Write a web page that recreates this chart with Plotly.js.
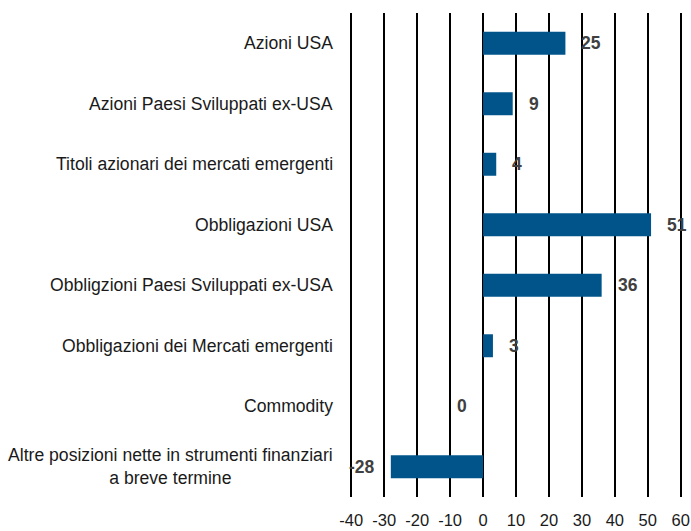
<!DOCTYPE html>
<html>
<head>
<meta charset="utf-8">
<script src="https://cdn.plot.ly/plotly-3.0.1.min.js"></script>
<style>html,body{margin:0;padding:0;background:#fff;}#chart{width:691px;height:531px;}</style>
</head>
<body>
<div id="chart"></div>
<script>
const categories = [
  "Azioni USA",
  "Azioni Paesi Sviluppati ex-USA",
  "Titoli azionari dei mercati emergenti",
  "Obbligazioni USA",
  "Obbligzioni Paesi Sviluppati ex-USA",
  "Obbligazioni dei Mercati emergenti",
  "Commodity",
  "Altre posizioni nette in strumenti finanziari<br>a breve termine"
];
const values = [25, 9, 4, 51, 36, 3, 0, -28];
const xTicks = [-40, -30, -20, -10, 0, 10, 20, 30, 40, 50, 60];

const idx = categories.map((_, i) => i);

const trace = {
  type: 'bar',
  orientation: 'h',
  x: values,
  y: idx,
  width: 0.38,
  marker: {color: '#01548a', line: {width: 0}},
  hoverinfo: 'skip'
};

const annotations = [];
categories.forEach((c, i) => {
  annotations.push({
    xref: 'paper', yref: 'y', x: 0, y: i,
    xanchor: 'right', yanchor: 'middle', xshift: -13,
    text: c, showarrow: false, align: 'center',
    font: {family: 'Liberation Sans, Arial, sans-serif', size: 17.6, color: '#1a1a1a'}
  });
  const v = values[i];
  annotations.push({
    xref: 'x', yref: 'y', x: v, y: i,
    xanchor: v > 0 ? 'left' : 'right', yanchor: 'middle',
    xshift: v > 0 ? 14 : -14,
    text: '<b>' + v + '</b>', showarrow: false,
    font: {family: 'Liberation Sans, Arial, sans-serif', size: 17.5, color: '#404040'}
  });
});

const layout = {
  width: 691, height: 531,
  margin: {l: 348, r: 7, t: 13, b: 34, pad: 0},
  paper_bgcolor: '#fff', plot_bgcolor: '#fff',
  showlegend: false,
  font: {family: 'Liberation Sans, Arial, sans-serif', size: 16, color: '#1a1a1a'},
  xaxis: {
    range: [-41, 61],
    tickvals: xTicks,
    ticktext: xTicks.map(String),
    showgrid: true, gridcolor: '#000', gridwidth: 2,
    zeroline: true, zerolinecolor: '#000', zerolinewidth: 2,
    showline: false, ticks: '',
    ticklabelstandoff: 11,
    tickfont: {size: 16.5, color: '#1a1a1a'},
    fixedrange: true
  },
  yaxis: {
    range: [7.5, -0.5],
    showticklabels: false, showgrid: false, zeroline: false, showline: false, ticks: '',
    fixedrange: true
  },
  annotations: annotations
};

Plotly.newPlot('chart', [trace], layout, {displayModeBar: false, staticPlot: true});
</script>
</body>
</html>
